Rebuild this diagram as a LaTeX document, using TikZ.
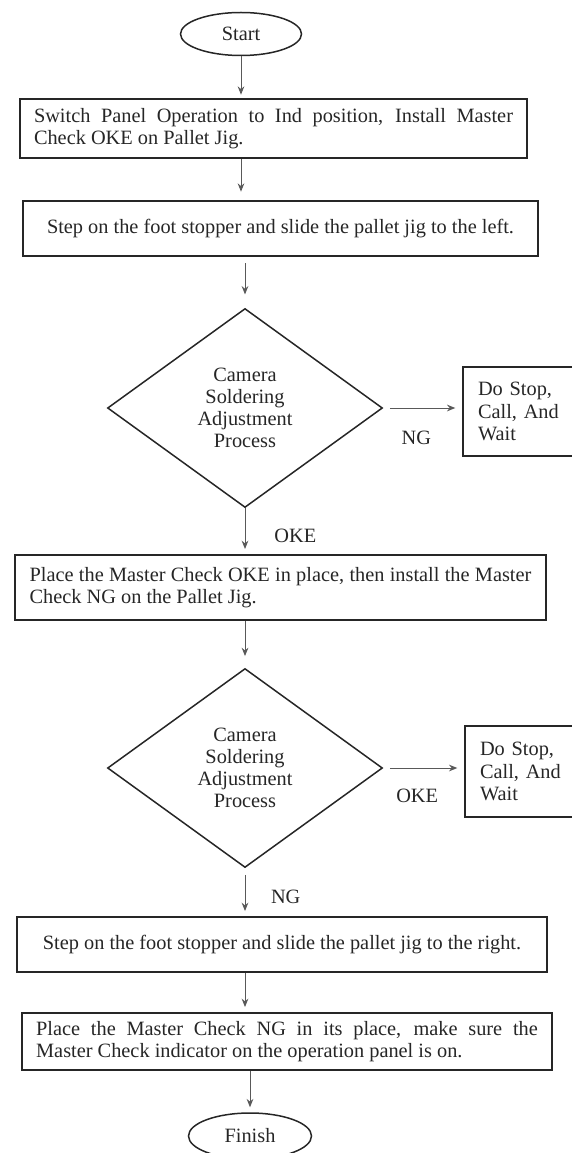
\documentclass[tikz,border=0pt]{standalone}
\usepackage{fontspec}
\setmainfont{Liberation Serif}
\usetikzlibrary{shapes.geometric}
\usetikzlibrary{arrows.meta, positioning}
\definecolor{txt}{rgb}{0.15,0.15,0.15}
\definecolor{lin}{rgb}{0.35,0.35,0.35}

\begin{document}
\begin{tikzpicture}[x=0.6pt, y=-0.6pt,
	every node/.style = {font=\fontsize{12.2pt}{13.3pt}\selectfont, text=txt},
	term/.style = {ellipse, draw=black!85, line width=0.9pt, minimum width=72.6pt, minimum height=25.8pt, inner sep=0pt},
	proc/.style = {rectangle, draw=black!85, line width=1.2pt, inner sep=0pt},
	dec/.style = {diamond, draw=black!85, line width=0.9pt, minimum width=165pt, minimum height=119.4pt, inner sep=0pt, align=center},
	halt/.style = {rectangle, draw=black!85, line width=1.2pt, anchor=west, minimum height=53.4pt, inner xsep=9pt, inner ysep=0pt, text width=72pt, align=left},
	flow/.style = {color=lin, line width=0.6pt, shorten >=3pt, -{Stealth[length=5pt, width=4pt]}}
	]
	\useasboundingbox (0,0) rectangle (572,1153);
	\node (start) [term] at (241,34) {Start};
	\node (b1) [proc, minimum width=304.2pt, minimum height=35.4pt, text width=287.4pt, align=justify] at (273.5,128.5) {Switch Panel Operation to Ind position, Install Master\linebreak Check OKE on Pallet Jig.};
	\node (b2) [proc, minimum width=309pt, minimum height=33pt, align=center] at (280.5,228.5) {Step on the foot stopper and slide the pallet jig to the left.};
	\node (d1) [dec] at (245,408) {Camera\\Soldering\\Adjustment\\Process};
	\node (stop1) [halt] at (462,411.5) {Do Stop,\\Call, And\\Wait};
	\node (b3) [proc, minimum width=318.6pt, minimum height=39pt, text width=301pt, align=justify] at (280.5,587.5) {Place the Master Check OKE in place, then install the Master\linebreak Check NG on the Pallet Jig.};
	\node (d2) [dec] at (245,768) {Camera\\Soldering\\Adjustment\\Process};
	\node (stop2) [halt, minimum height=54.6pt] at (464,771.5) {Do Stop,\\Call, And\\Wait};
	\node (b4) [proc, minimum width=318pt, minimum height=33pt, align=center] at (282,944.5) {Step on the foot stopper and slide the pallet jig to the right.};
	\node (b5) [proc, minimum width=318pt, minimum height=34.2pt, text width=301pt, align=justify] at (287,1041.5) {Place the Master Check NG in its place, make sure the\linebreak Master Check indicator on the operation panel is on.};
	\node (fin) [term, minimum width=73.8pt, minimum height=27.6pt] at (250,1136) {Finish};
	\path [flow]
	(start) edge [shorten >=2pt] (start |- b1.north)
	(b1.south -| start) edge [shorten >=5pt] (b2.north -| start)
	(b2.south -| d1) edge [shorten <=3.6pt, shorten >=8pt] (d1)
	(d1) edge node[pos=.6, anchor=west, xshift=14pt] {OKE} (d1 |- b3.north)
	(d1) edge [shorten <=4pt, shorten >=4pt] node[pos=.42, yshift=-18pt] {NG} (d1.east -| stop1.west)
	(b3.south -| d2) edge [shorten >=7pt] (d2)
	(d2) edge [shorten <=4pt, shorten >=4pt] node[pos=.42, yshift=-17pt] {OKE} (d2.east -| stop2.west)
	(d2) edge [shorten <=4pt] node[pos=.6, anchor=west, xshift=12pt] {NG} (d2 |- b4.north)
	(b4.south -| d2) edge (b5.north -| d2)
	(b5.south -| fin) edge (fin);
\end{tikzpicture}
\end{document}
